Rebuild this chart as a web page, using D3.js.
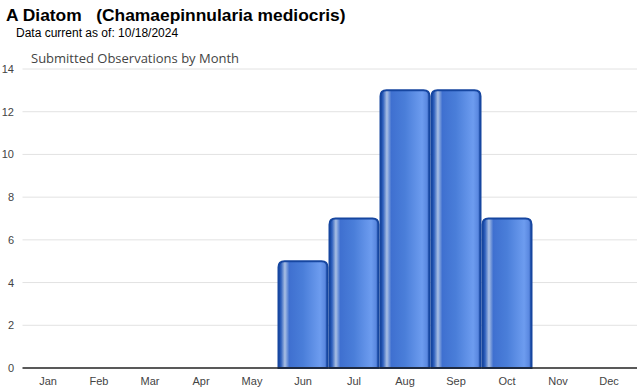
<!DOCTYPE html>
<html>
<head>
<meta charset="utf-8">
<script src="https://cdn.jsdelivr.net/npm/d3@7"></script>
<style>
  body { margin: 0; background: #fff; }
  svg { display: block; font-family: Arial, "Liberation Sans", sans-serif; }
</style>
</head>
<body>
<script>
const months = ["Jan", "Feb", "Mar", "Apr", "May", "Jun", "Jul", "Aug", "Sep", "Oct", "Nov", "Dec"];
const counts = [0, 0, 0, 0, 0, 5, 7, 13, 13, 7, 0, 0];
const yTicks = [0, 2, 4, 6, 8, 10, 12, 14];

const width = 640, height = 390;
const plotLeft = 22.5, plotRight = 634.5, plotTop = 69, plotBottom = 368;

const svg = d3.select("body").append("svg")
    .attr("width", width)
    .attr("height", height);

// bar shading, dark edges with a light streak near the left
const grad = svg.append("defs").append("linearGradient")
    .attr("id", "barGrad")
    .attr("x1", "0%").attr("x2", "100%").attr("y1", "0%").attr("y2", "0%");
[
    [0, "#1b4aa3"], [0.05, "#2d5fbd"], [0.13, "#aac0e4"], [0.22, "#3f70d0"],
    [0.5, "#4a7ed9"], [0.85, "#6d9cef"], [0.95, "#5a88e0"], [1, "#1b4aa3"]
].forEach(s => grad.append("stop").attr("offset", s[0]).attr("stop-color", s[1]));

const x = d3.scaleBand().domain(months).range([plotLeft, plotRight]).padding(0);
const y = d3.scaleLinear().domain([0, 14]).range([plotBottom, plotTop]);

// gridlines
svg.append("g")
    .selectAll("line")
    .data(yTicks.filter(d => d > 0))
    .enter().append("line")
    .attr("x1", plotLeft).attr("x2", 637)
    .attr("y1", d => y(d)).attr("y2", d => y(d))
    .attr("stroke", "#e2e2e2");

// y labels
svg.append("g")
    .selectAll("text")
    .data(yTicks)
    .enter().append("text")
    .attr("x", 14)
    .attr("y", d => y(d) + 4)
    .attr("text-anchor", "end")
    .attr("font-size", 11)
    .attr("fill", "#444")
    .text(d => d);

// bars with rounded tops
const barPath = (x0, w, y0, y1, r) =>
    `M${x0},${y1}V${y0 + r}Q${x0},${y0} ${x0 + r},${y0}H${x0 + w - r}Q${x0 + w},${y0} ${x0 + w},${y0 + r}V${y1}Z`;

svg.append("g")
    .selectAll("path")
    .data(months.map((m, i) => ({ m, v: counts[i] })).filter(d => d.v > 0))
    .enter().append("path")
    .attr("d", d => barPath(x(d.m) + 1, x.bandwidth() - 2, y(d.v), plotBottom, 6))
    .attr("fill", "url(#barGrad)")
    .attr("stroke", "#1646a0")
    .attr("stroke-width", 2);

// baseline
svg.append("line")
    .attr("x1", plotLeft).attr("x2", 637)
    .attr("y1", plotBottom).attr("y2", plotBottom)
    .attr("stroke", "#222").attr("stroke-width", 1.5);

// x labels
svg.append("g")
    .selectAll("text")
    .data(months)
    .enter().append("text")
    .attr("x", d => x(d) + x.bandwidth() / 2)
    .attr("y", 385)
    .attr("text-anchor", "middle")
    .attr("font-size", 11)
    .attr("fill", "#444")
    .text(d => d);

// titles
svg.append("text")
    .attr("x", 6).attr("y", 21)
    .attr("font-size", 17.4).attr("font-weight", "bold")
    .attr("fill", "#000")
    .style("white-space", "pre")
    .text("A Diatom   (Chamaepinnularia mediocris)");

svg.append("text")
    .attr("x", 16).attr("y", 37)
    .attr("font-size", 12)
    .attr("fill", "#000")
    .text("Data current as of: 10/18/2024");

svg.append("text")
    .attr("x", 31).attr("y", 63)
    .attr("font-size", 13)
    .attr("fill", "#444")
    .attr("font-family", "'Open Sans', 'Noto Sans', sans-serif")
    .text("Submitted Observations by Month");
</script>
</body>
</html>
